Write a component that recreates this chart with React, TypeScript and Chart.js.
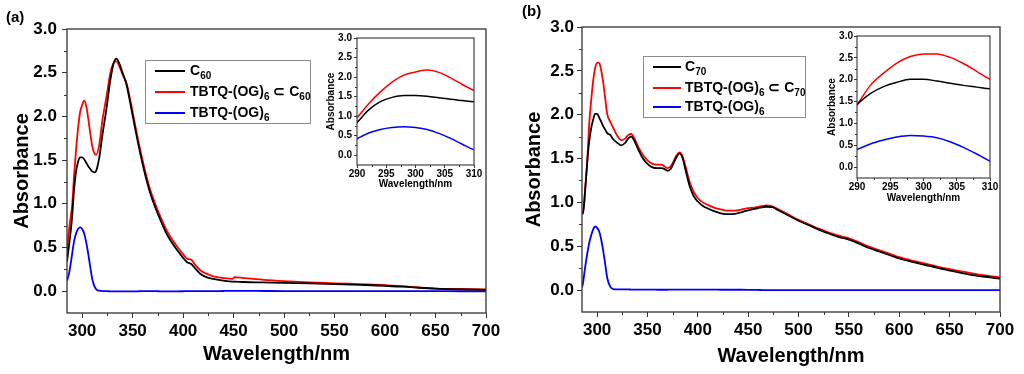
import React, { useEffect, useRef } from 'react';
import { Chart, registerables } from 'chart.js';

Chart.register(...registerables);

const FONT = '"Liberation Sans", Arial, Helvetica, sans-serif';
Chart.defaults.font.family = FONT;

// ---------------- Panel (a) data ----------------
const WL_A = [285, 287, 289, 290, 292, 294, 296, 298, 300, 302, 304, 306, 308, 310, 312, 314, 317, 320, 324, 328, 331, 334, 337, 340, 344, 348, 352, 356, 360, 364, 368, 373, 378, 383, 388, 394, 400, 404, 408, 412, 417, 423, 430, 440, 449, 451, 460, 480, 500, 525, 550, 575, 600, 625, 650, 675, 700];
const C60_A = [0.34, 0.52, 0.72, 0.84, 1.16, 1.37, 1.48, 1.53, 1.53, 1.51, 1.47, 1.43, 1.40, 1.37, 1.36, 1.38, 1.53, 1.78, 2.08, 2.42, 2.60, 2.66, 2.60, 2.50, 2.36, 2.13, 1.89, 1.66, 1.45, 1.26, 1.10, 0.94, 0.80, 0.67, 0.57, 0.47, 0.38, 0.33, 0.31, 0.26, 0.20, 0.16, 0.14, 0.12, 0.11, 0.11, 0.105, 0.10, 0.095, 0.088, 0.08, 0.072, 0.062, 0.045, 0.028, 0.02, 0.015];
const COMPLEX_A = [0.46, 0.70, 0.88, 0.97, 1.32, 1.62, 1.87, 2.05, 2.13, 2.18, 2.12, 1.98, 1.81, 1.66, 1.58, 1.56, 1.68, 1.95, 2.22, 2.50, 2.61, 2.63, 2.57, 2.48, 2.38, 2.17, 1.93, 1.70, 1.49, 1.30, 1.14, 0.98, 0.84, 0.71, 0.61, 0.51, 0.42, 0.37, 0.36, 0.30, 0.24, 0.20, 0.17, 0.15, 0.14, 0.16, 0.15, 0.13, 0.115, 0.10, 0.09, 0.08, 0.07, 0.05, 0.03, 0.025, 0.02];
const TBTQ_A = [0.12, 0.20, 0.34, 0.42, 0.57, 0.66, 0.71, 0.73, 0.71, 0.66, 0.56, 0.43, 0.28, 0.14, 0.06, 0.02, 0.005, 0.0, 0.0, -0.002, -0.003, -0.003, -0.003, -0.003, -0.002, -0.002, -0.002, -0.001, 0.0, 0.0, 0.0, 0.0, -0.002, -0.002, -0.002, -0.002, -0.001, 0.0, 0.0, 0.0, 0.0, 0.0, 0.0, 0.002, 0.003, 0.003, 0.003, 0.002, 0.001, 0.0, 0.0, 0.0, 0.0, 0.0, 0.0, -0.001, -0.001];

// ---------------- Panel (b) data ----------------
const WL_B = [285, 286, 288, 290, 292, 294, 296, 298, 300, 302, 304, 306, 308, 310, 313, 316, 320, 324, 328, 331, 334, 337, 341, 345, 350, 355, 360, 364, 367, 370, 373, 376, 379, 382, 385, 388, 392, 396, 400, 405, 410, 416, 423, 430, 437, 444, 450, 456, 462, 468, 474, 480, 490, 500, 510, 520, 530, 540, 550, 560, 570, 580, 590, 600, 615, 630, 645, 660, 675, 690, 700];
const C70_B = [0.90, 0.87, 1.12, 1.43, 1.68, 1.84, 1.94, 2.01, 2.01, 1.97, 1.92, 1.87, 1.83, 1.79, 1.77, 1.72, 1.68, 1.65, 1.68, 1.73, 1.75, 1.70, 1.60, 1.51, 1.44, 1.40, 1.39, 1.39, 1.38, 1.36, 1.38, 1.45, 1.52, 1.56, 1.50, 1.36, 1.18, 1.07, 1.01, 0.96, 0.93, 0.90, 0.875, 0.865, 0.87, 0.89, 0.91, 0.925, 0.94, 0.95, 0.945, 0.91, 0.85, 0.79, 0.74, 0.69, 0.645, 0.605, 0.575, 0.53, 0.48, 0.44, 0.40, 0.36, 0.315, 0.275, 0.235, 0.20, 0.168, 0.145, 0.13];
const COMPLEX_B = [0.90, 0.88, 1.13, 1.43, 1.87, 2.15, 2.38, 2.53, 2.59, 2.59, 2.51, 2.37, 2.19, 2.01, 1.92, 1.85, 1.76, 1.71, 1.73, 1.77, 1.78, 1.73, 1.63, 1.55, 1.48, 1.44, 1.43, 1.43, 1.41, 1.39, 1.41, 1.47, 1.54, 1.57, 1.52, 1.40, 1.23, 1.12, 1.05, 1.00, 0.97, 0.94, 0.92, 0.905, 0.905, 0.92, 0.935, 0.94, 0.955, 0.965, 0.955, 0.92, 0.86, 0.80, 0.75, 0.70, 0.655, 0.62, 0.59, 0.545, 0.495, 0.455, 0.415, 0.375, 0.33, 0.29, 0.25, 0.215, 0.185, 0.16, 0.145];
const TBTQ_B = [0.03, 0.08, 0.25, 0.40, 0.53, 0.62, 0.69, 0.725, 0.71, 0.67, 0.58, 0.45, 0.30, 0.14, 0.04, 0.012, 0.008, 0.008, 0.007, 0.007, 0.006, 0.006, 0.006, 0.006, 0.005, 0.005, 0.004, 0.004, 0.004, 0.004, 0.006, 0.006, 0.006, 0.006, 0.006, 0.006, 0.006, 0.005, 0.005, 0.005, 0.005, 0.005, 0.004, 0.004, 0.004, 0.004, 0.003, 0.002, 0.001, 0.0, 0.0, 0.0, 0.0, 0.0, 0.0, 0.0, 0.0, 0.0, 0.0, 0.0, 0.0, 0.0, 0.0, 0.0, 0.0, 0.0, 0.0, 0.0, 0.0, 0.0, 0.0];

// ---------------- Tick values ----------------
const MAIN_X_TICKS = [300, 350, 400, 450, 500, 550, 600, 650, 700];
const MAIN_X_MINOR = [325, 375, 425, 475, 525, 575, 625, 675];
const Y_TICKS = [0, 0.5, 1.0, 1.5, 2.0, 2.5, 3.0];
const Y_MINOR = [0.25, 0.75, 1.25, 1.75, 2.25, 2.75];
const INSET_X_TICKS = [290, 295, 300, 305, 310];
const INSET_X_MINOR = [292.5, 297.5, 302.5, 307.5];

const COLORS = { host: '#000000', complex: '#ff0000', tbtq: '#0000ff' };

const framePlugin = {
  id: 'frame',
  afterDraw(chart: any, _args: any, opts: any) {
    const { ctx, chartArea: a, scales } = chart;
    ctx.save();
    ctx.strokeStyle = opts.color;
    ctx.lineWidth = opts.width;
    ctx.strokeRect(a.left, a.top, a.right - a.left, a.bottom - a.top);
    ctx.lineWidth = 1;
    ctx.beginPath();
    (opts.minorX || []).forEach((v: number) => {
      const x = Math.round(scales.x.getPixelForValue(v)) + 0.5;
      ctx.moveTo(x, a.bottom);
      ctx.lineTo(x, a.bottom + opts.minorLen);
    });
    (opts.minorY || []).forEach((v: number) => {
      const y = Math.round(scales.y.getPixelForValue(v)) + 0.5;
      ctx.moveTo(a.left, y);
      ctx.lineTo(a.left - opts.minorLen, y);
    });
    ctx.stroke();
    ctx.restore();
  },
};

type Spec = {
  left: number; top: number; width: number; height: number;
  area: { l: number; t: number; r: number; b: number };
  xMin: number; xMax: number; xTicks: number[]; xMinor: number[];
  wl: number[]; series: { label: string; values: number[]; color: string }[];
  tickFont: number; titleFont: number; tickLen: number; minorLen: number;
  xTickPad: number; yTickPad: number; xTitleCY: number; yTitleCX: number;
  lineWidth: number; frameWidth: number;
};

function SpectrumChart(p: Spec) {
  const ref = useRef<HTMLCanvasElement | null>(null);
  useEffect(() => {
    if (!ref.current) return;
    const padTop = p.area.t - p.top;
    const padRight = p.left + p.width - p.area.r;
    const yW = p.area.l - p.left;
    const xH = p.top + p.height - p.area.b;
    const lh = p.titleFont * 1.2;
    const xTitlePad = (p.top + p.height - p.xTitleCY) - lh / 2;
    const yTitlePad = (p.yTitleCX - p.left) - lh / 2;
    const chart = new Chart(ref.current, {
      type: 'line',
      data: {
        datasets: p.series.map((s) => ({
          label: s.label,
          data: p.wl.map((x, i) => ({ x, y: s.values[i] })),
          borderColor: s.color,
          backgroundColor: s.color,
          borderWidth: p.lineWidth,
          pointRadius: 0,
          cubicInterpolationMode: 'monotone',
          fill: false,
          clip: 0,
        })),
      } as any,
      options: {
        responsive: false,
        animation: false,
        devicePixelRatio: 1,
        layout: { padding: { top: padTop, right: padRight, left: 0, bottom: 0 } },
        plugins: {
          legend: { display: false },
          tooltip: { enabled: false },
          frame: {
            color: '#333333', width: p.frameWidth, minorLen: p.minorLen,
            minorX: p.xMinor, minorY: Y_MINOR,
          },
        } as any,
        scales: {
          x: {
            type: 'linear',
            min: p.xMin,
            max: p.xMax,
            afterBuildTicks: (s: any) => { s.ticks = p.xTicks.map((v) => ({ value: v })); },
            afterFit: (s: any) => { s.height = xH; s.paddingLeft = 0; s.paddingRight = 0; },
            ticks: {
              autoSkip: false, maxRotation: 0, minRotation: 0,
              padding: p.xTickPad, color: '#000',
              font: { size: p.tickFont, weight: 'bold', family: FONT },
              callback: (v: any) => String(v),
            },
            grid: { drawOnChartArea: false, drawTicks: true, tickLength: p.tickLen, tickColor: '#333333', tickWidth: 1 },
            border: { display: false },
            title: {
              display: true, text: 'Wavelength/nm', color: '#000',
              font: { size: p.titleFont, weight: 'bold', family: FONT },
              padding: { top: 0, bottom: xTitlePad },
            },
          },
          y: {
            type: 'linear',
            min: -0.25,
            max: 3.0,
            afterBuildTicks: (s: any) => { s.ticks = Y_TICKS.map((v) => ({ value: v })); },
            afterFit: (s: any) => { s.width = yW; s.paddingTop = 0; s.paddingBottom = 0; },
            ticks: {
              autoSkip: false,
              padding: p.yTickPad, color: '#000',
              font: { size: p.tickFont, weight: 'bold', family: FONT },
              callback: (v: any) => Number(v).toFixed(1),
            },
            grid: { drawOnChartArea: false, drawTicks: true, tickLength: p.tickLen, tickColor: '#333333', tickWidth: 1 },
            border: { display: false },
            title: {
              display: true, text: 'Absorbance', color: '#000',
              font: { size: p.titleFont, weight: 'bold', family: FONT },
              padding: { top: yTitlePad, bottom: 0 },
            },
          },
        },
      } as any,
      plugins: [framePlugin],
    });
    return () => chart.destroy();
  }, []);
  return (
    <canvas
      ref={ref}
      width={p.width}
      height={p.height}
      style={{ position: 'absolute', left: p.left, top: p.top, width: p.width, height: p.height }}
    />
  );
}

type LegendRow = { color: string; content: React.ReactNode };

function Legend(props: { left: number; top: number; width: number; height: number; lineX: number; lineW: number; textX: number; rowY: number[]; rows: LegendRow[] }) {
  const { left, top, width, height, lineX, lineW, textX, rowY, rows } = props;
  return (
    <div style={{ position: 'absolute', left, top, width, height, border: '1px solid #8c8c8c', background: '#fff', boxSizing: 'border-box' }}>
      {rows.map((r, i) => (
        <React.Fragment key={i}>
          <div style={{ position: 'absolute', left: lineX - left - 1, top: rowY[i] - top - 2, width: lineW, height: 2, background: r.color }} />
          <div style={{ position: 'absolute', left: textX - left - 1, top: rowY[i] - top - 10, height: 18, lineHeight: '18px', whiteSpace: 'nowrap', font: `bold 14px ${FONT}`, color: '#000' }}>
            {r.content}
          </div>
        </React.Fragment>
      ))}
    </div>
  );
}

const subStyle: React.CSSProperties = { fontSize: 10, verticalAlign: '-4px', lineHeight: 0 };

export default function App() {
  const mainCommon = { tickFont: 17, titleFont: 20, tickLen: 5, minorLen: 3, lineWidth: 1.8, frameWidth: 1.3, xMin: 285, xMax: 700, xTicks: MAIN_X_TICKS, xMinor: MAIN_X_MINOR };
  const insetCommon = { tickFont: 10, titleFont: 10, tickLen: 3, minorLen: 2, lineWidth: 1.5, frameWidth: 1.1, xMin: 290, xMax: 310, xTicks: INSET_X_TICKS, xMinor: INSET_X_MINOR };
  const seriesA = [
    { label: 'C60', values: C60_A, color: COLORS.host },
    { label: 'TBTQ-(OG)6 ⊂ C60', values: COMPLEX_A, color: COLORS.complex },
    { label: 'TBTQ-(OG)6', values: TBTQ_A, color: COLORS.tbtq },
  ];
  const seriesB = [
    { label: 'C70', values: C70_B, color: COLORS.host },
    { label: 'TBTQ-(OG)6 ⊂ C70', values: COMPLEX_B, color: COLORS.complex },
    { label: 'TBTQ-(OG)6', values: TBTQ_B, color: COLORS.tbtq },
  ];
  return (
    <div style={{ position: 'fixed', left: 0, top: 0, width: 1024, height: 374, background: '#fff', overflow: 'hidden' }}>
      <SpectrumChart {...mainCommon} left={0} top={0} width={510} height={374}
        area={{ l: 67, t: 29, r: 486, b: 313 }} wl={WL_A} series={seriesA}
        xTickPad={3} yTickPad={5} xTitleCY={354} yTitleCX={22} />
      <SpectrumChart {...mainCommon} left={500} top={0} width={524} height={374}
        area={{ l: 582, t: 27, r: 1000, b: 312 }} wl={WL_B} series={seriesB}
        xTickPad={3} yTickPad={3} xTitleCY={356} yTitleCX={534} />
      <Legend left={145} top={60} width={166} height={64} lineX={155} lineW={30} textX={190} rowY={[71, 92, 113]}
        rows={[
          { color: COLORS.host, content: <>C<sub style={subStyle}>60</sub></> },
          { color: COLORS.complex, content: <>TBTQ-(OG)<sub style={subStyle}>6</sub> ⊂ C<sub style={subStyle}>60</sub></> },
          { color: COLORS.tbtq, content: <>TBTQ-(OG)<sub style={subStyle}>6</sub></> },
        ]} />
      <Legend left={643} top={56} width={163} height={62} lineX={653} lineW={28} textX={685} rowY={[67, 88, 107]}
        rows={[
          { color: COLORS.host, content: <>C<sub style={subStyle}>70</sub></> },
          { color: COLORS.complex, content: <>TBTQ-(OG)<sub style={subStyle}>6</sub> ⊂ C<sub style={subStyle}>70</sub></> },
          { color: COLORS.tbtq, content: <>TBTQ-(OG)<sub style={subStyle}>6</sub></> },
        ]} />
      <SpectrumChart {...insetCommon} left={318} top={28} width={180} height={170}
        area={{ l: 357, t: 38, r: 474, b: 165 }} wl={WL_A} series={seriesA}
        xTickPad={0} yTickPad={2} xTitleCY={184} yTitleCX={331} />
      <SpectrumChart {...insetCommon} left={812} top={26} width={200} height={190}
        area={{ l: 857, t: 36, r: 990, b: 178 }} wl={WL_B} series={seriesB}
        xTickPad={0} yTickPad={1} xTitleCY={198} yTitleCX={832} />
      <div style={{ position: 'absolute', left: 6, top: 8, font: `bold 15px ${FONT}`, lineHeight: '18px', color: '#000' }}>(a)</div>
      <div style={{ position: 'absolute', left: 522, top: 2, font: `bold 15px ${FONT}`, lineHeight: '18px', color: '#000' }}>(b)</div>
    </div>
  );
}
